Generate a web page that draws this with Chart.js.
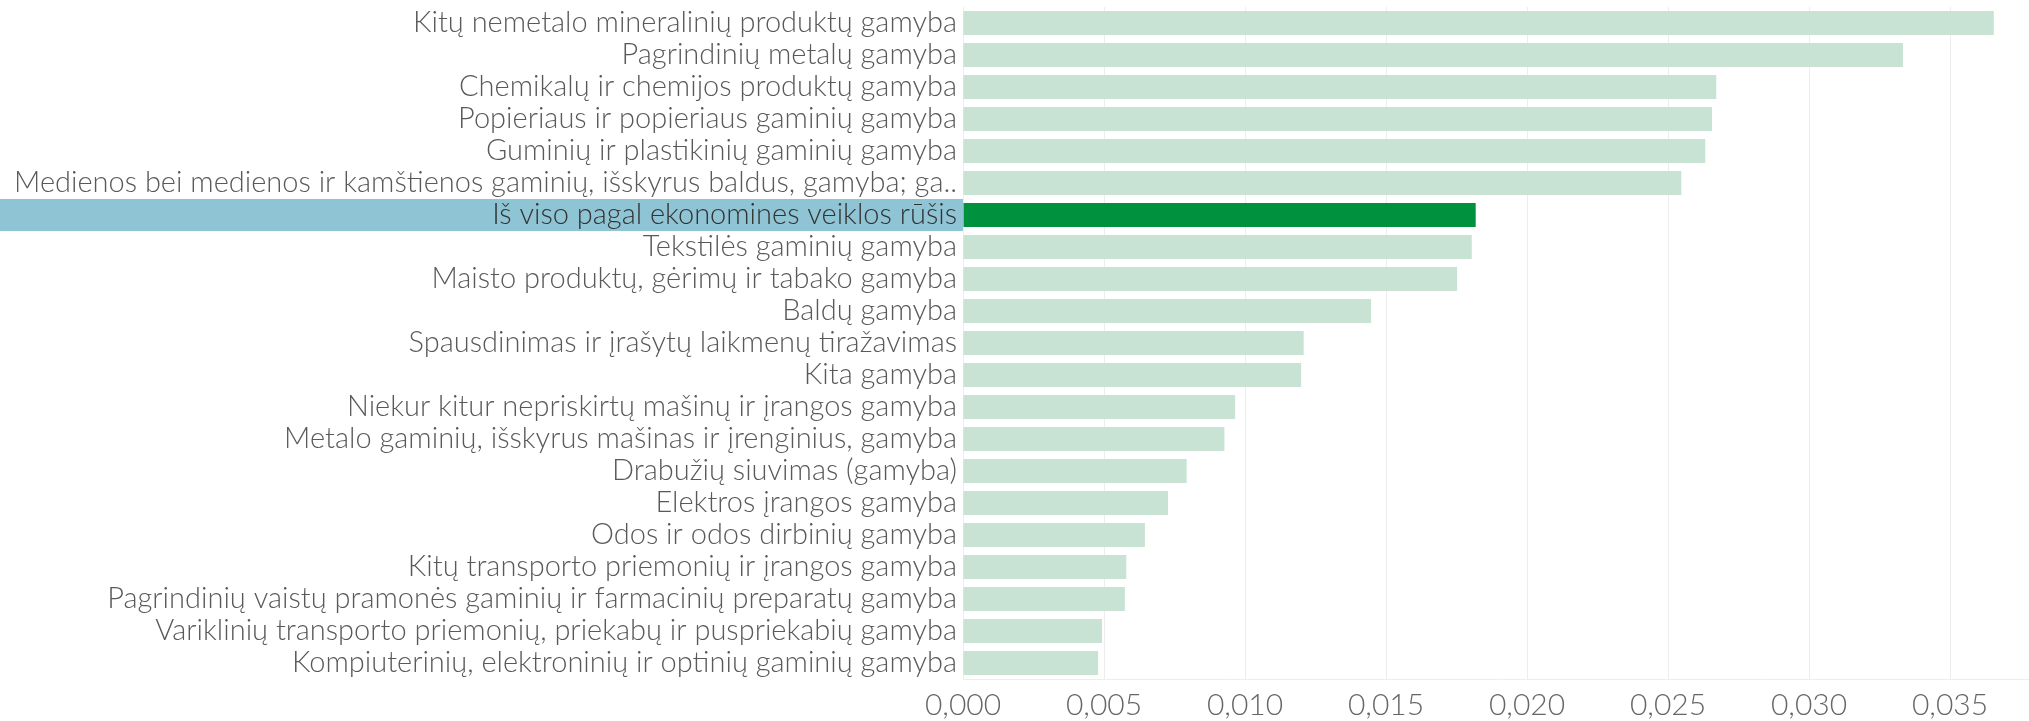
<!DOCTYPE html>
<html>
<head>
<meta charset="utf-8">
<script src="https://cdn.jsdelivr.net/npm/chart.js@4.4.1/dist/chart.umd.min.js"></script>
<style>
  html, body { margin: 0; padding: 0; background: #fff; }
  #wrap { width: 2029px; height: 721px; position: relative; }
</style>
</head>
<body>
<div id="wrap"><canvas id="myChart"></canvas></div>
<script>
// Data
var categories = [
    'Kitų nemetalo mineralinių produktų gamyba',
    'Pagrindinių metalų gamyba',
    'Chemikalų ir chemijos produktų gamyba',
    'Popieriaus ir popieriaus gaminių gamyba',
    'Guminių ir plastikinių gaminių gamyba',
    'Medienos bei medienos ir kamštienos gaminių, išskyrus baldus, gamyba; ga..',
    'Iš viso pagal ekonomines veiklos rūšis',
    'Tekstilės gaminių gamyba',
    'Maisto produktų, gėrimų ir tabako gamyba',
    'Baldų gamyba',
    'Spausdinimas ir įrašytų laikmenų tiražavimas',
    'Kita gamyba',
    'Niekur kitur nepriskirtų mašinų ir įrangos gamyba',
    'Metalo gaminių, išskyrus mašinas ir įrenginius, gamyba',
    'Drabužių siuvimas (gamyba)',
    'Elektros įrangos gamyba',
    'Odos ir odos dirbinių gamyba',
    'Kitų transporto priemonių ir įrangos gamyba',
    'Pagrindinių vaistų pramonės gaminių ir farmacinių preparatų gamyba',
    'Variklinių transporto priemonių, priekabų ir puspriekabių gamyba',
    'Kompiuterinių, elektroninių ir optinių gaminių gamyba'
];
var values = [
    0.03655, 0.03333, 0.02671, 0.02656, 0.02632, 0.02547, 0.01818,
    0.01804, 0.01752, 0.01447, 0.01208, 0.01199, 0.00965, 0.00927,
    0.00793, 0.00727, 0.00645, 0.00579, 0.00574, 0.00493, 0.00479
];
var highlightIndex = 6;
var tickStep = 0.005;

var barColors = values.map(function (v, i) {
    return i === highlightIndex ? '#00913f' : '#c8e2d4';
});

// light blue band behind the highlighted row label
var highlightBand = {
    id: 'highlightBand',
    beforeDraw: function (chart) {
        var ctx = chart.ctx;
        var y = chart.scales.y;
        var yc = y.getPixelForValue(highlightIndex);
        var h = chart.chartArea.height / categories.length;
        ctx.save();
        ctx.fillStyle = '#8fc4d4';
        ctx.fillRect(0, yc - h / 2, chart.chartArea.left, h);
        ctx.restore();
    }
};

var labelFont = "Lato, 'Liberation Sans', sans-serif";

var ctx = document.getElementById('myChart').getContext('2d');
var myBarChart = new Chart(ctx, {
    type: 'bar',
    data: {
        labels: categories,
        datasets: [{
            data: values,
            backgroundColor: barColors,
            borderWidth: 0,
            barPercentage: 0.75,
            categoryPercentage: 1.0
        }]
    },
    options: {
        indexAxis: 'y',
        responsive: true,
        maintainAspectRatio: false,
        animation: false,
        layout: { padding: { top: 7, right: 0, left: 0, bottom: 0 } },
        plugins: {
            legend: { display: false },
            tooltip: { enabled: false }
        },
        scales: {
            x: {
                min: 0,
                max: 0.0378,
                ticks: {
                    stepSize: tickStep,
                    includeBounds: false,
                    padding: 8,
                    color: '#666',
                    font: { family: labelFont, size: 30, weight: '300' },
                    callback: function (v) { return Number(v).toFixed(3).replace('.', ','); }
                },
                afterBuildTicks: function (scale) {
                    scale.ticks = scale.ticks.filter(function (t) {
                        var r = t.value / tickStep;
                        return Math.abs(r - Math.round(r)) < 1e-6;
                    });
                },
                afterFit: function (scale) {
                    scale.height = 42;
                    scale.paddingLeft = 0;
                    scale.paddingRight = 0;
                },
                grid: { color: '#ededed', drawTicks: false },
                border: { display: true, color: '#ededed' }
            },
            y: {
                ticks: {
                    padding: 6,
                    autoSkip: false,
                    color: function (c) { return c.index === highlightIndex ? '#333' : '#595959'; },
                    font: { family: labelFont, size: 29, weight: '300' }
                },
                afterFit: function (scale) {
                    scale.width = 963;
                    scale.paddingTop = 0;
                    scale.paddingBottom = 0;
                },
                grid: { display: false, drawTicks: false },
                border: { display: false }
            }
        }
    },
    plugins: [highlightBand]
});
</script>
</body>
</html>
